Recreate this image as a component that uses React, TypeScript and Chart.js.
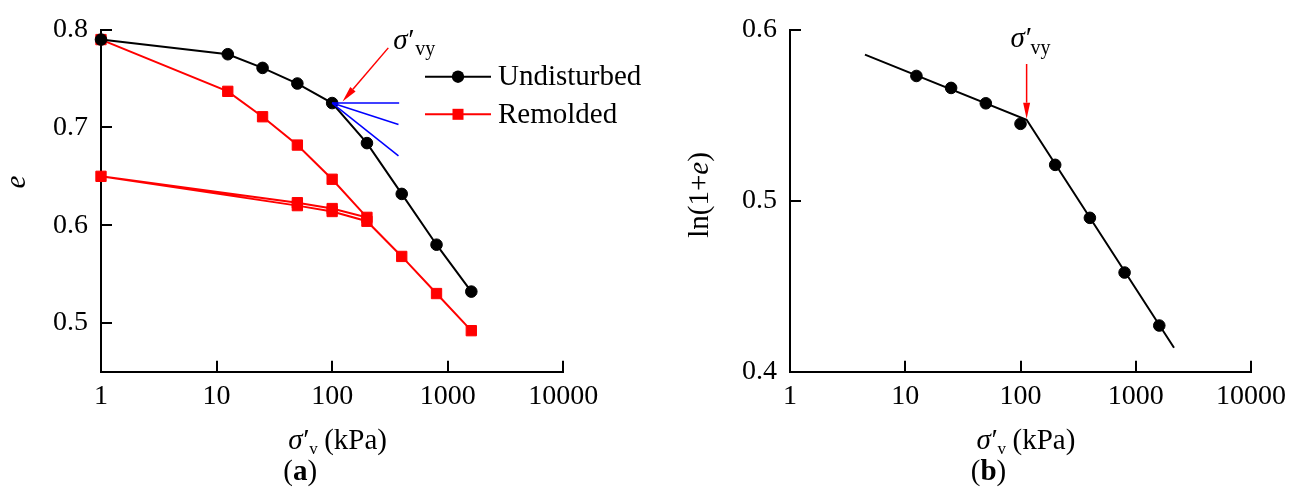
import { useEffect, useRef } from "react";
import { Chart, registerables } from "chart.js";

Chart.register(...registerables);

const SERIF = '"Liberation Serif", "Times New Roman", serif';

// ---- shared axis ticks ----
const xTicks = [1, 10, 100, 1000, 10000];
const yTicksA = [0.5, 0.6, 0.7, 0.8];
const yTicksB = [0.4, 0.5, 0.6];

// ---- panel (a): void ratio e versus vertical effective stress ----
const stressUndisturbed = [1, 12.5, 25, 50, 100, 200, 400, 800, 1600];
const eUndisturbed = [0.79, 0.775, 0.761, 0.745, 0.725, 0.684, 0.632, 0.58, 0.532];

// loading to 200 kPa, unloading to 1 kPa, then reloading to 1600 kPa
const stressRemolded = [1, 12.5, 25, 50, 100, 200, 100, 50, 1, 50, 100, 200, 400, 800, 1600];
const eRemolded = [0.79, 0.737, 0.711, 0.682, 0.647, 0.608, 0.617, 0.623, 0.65, 0.62, 0.614, 0.604, 0.568, 0.53, 0.492];

// Casagrande construction: horizontal, tangent and bisector from the max-curvature point
const constructionStartStress = 100;
const constructionStartE = 0.725;
const constructionEndStress = [380, 375, 375];
const constructionEndE = [0.725, 0.703, 0.671];

// yield-stress arrow in (a): tail and head
const arrowAStress = [306, 123];
const arrowAE = [0.7815, 0.7266];

// ---- panel (b): ln(1+e) versus vertical effective stress ----
const stressB = [12.5, 25, 50, 100, 200, 400, 800, 1600];
const lnB = [0.573, 0.566, 0.557, 0.545, 0.521, 0.49, 0.458, 0.427];
const fitStress = [4.47, 113, 2148];
const fitLn = [0.5855, 0.5474, 0.414];

// yield-stress arrow in (b): tail and head
const arrowBStress = [113, 113];
const arrowBLn = [0.58, 0.548];

const toPoints = (xs: number[], ys: number[]) => xs.map((x, i) => ({ x, y: ys[i] }));

function drawArrow(ctx: CanvasRenderingContext2D, x1: number, y1: number, x2: number, y2: number) {
  const ang = Math.atan2(y2 - y1, x2 - x1);
  const head = 16;
  const half = 3.5;
  const bx = x2 - head * Math.cos(ang);
  const by = y2 - head * Math.sin(ang);
  ctx.save();
  ctx.strokeStyle = "#ff0000";
  ctx.fillStyle = "#ff0000";
  ctx.lineWidth = 1.5;
  ctx.beginPath();
  ctx.moveTo(x1, y1);
  ctx.lineTo(bx, by);
  ctx.stroke();
  ctx.beginPath();
  ctx.moveTo(x2, y2);
  ctx.lineTo(bx + half * Math.sin(ang), by - half * Math.cos(ang));
  ctx.lineTo(bx - half * Math.sin(ang), by + half * Math.cos(ang));
  ctx.closePath();
  ctx.fill();
  ctx.restore();
}

// σ′ with a subscript, left-aligned at x on the given baseline
function drawSigma(
  ctx: CanvasRenderingContext2D,
  x: number,
  baseline: number,
  sub: string,
  subDx: number,
  subDy: number,
  subSize = 20
) {
  ctx.textAlign = "left";
  ctx.textBaseline = "alphabetic";
  ctx.font = `italic 29px ${SERIF}`;
  ctx.fillText("σ", x, baseline);
  const w = ctx.measureText("σ").width;
  ctx.fillText("′", x + w - 1, baseline);
  ctx.font = `${subSize}px ${SERIF}`;
  ctx.fillText(sub, x + subDx, baseline + subDy);
}

function drawAxisDecor(chart: any, xTitleOffset: number, letter: string) {
  const ctx: CanvasRenderingContext2D = chart.ctx;
  const { x, y } = chart.scales;
  ctx.save();
  // inward tick marks
  ctx.strokeStyle = "#000";
  ctx.lineWidth = 2;
  for (const t of x.ticks) {
    const px = Math.round(x.getPixelForValue(t.value));
    ctx.beginPath();
    ctx.moveTo(px, x.top);
    ctx.lineTo(px, x.top - 11);
    ctx.stroke();
  }
  for (const t of y.ticks) {
    const py = Math.round(y.getPixelForValue(t.value));
    ctx.beginPath();
    ctx.moveTo(y.right, py);
    ctx.lineTo(y.right + 11, py);
    ctx.stroke();
  }
  ctx.fillStyle = "#000";
  // x-axis title
  const cx = (chart.chartArea.left + chart.chartArea.right) / 2;
  const start = cx + xTitleOffset;
  drawSigma(ctx, start, 449, "v", 21, 5, 17);
  ctx.font = `29px ${SERIF}`;
  ctx.fillText("(kPa)", start + 36, 449);
  // panel letter
  ctx.font = `29px ${SERIF}`;
  const wo = ctx.measureText("(").width;
  ctx.font = `bold 29px ${SERIF}`;
  const wl = ctx.measureText(letter).width;
  const lx = cx - 32 - (2 * wo + wl) / 2;
  ctx.font = `29px ${SERIF}`;
  ctx.fillText("(", lx, 480);
  ctx.font = `bold 29px ${SERIF}`;
  ctx.fillText(letter, lx + wo, 480);
  ctx.font = `29px ${SERIF}`;
  ctx.fillText(")", lx + wo + wl, 480);
  ctx.restore();
}

function scalesFor(yMin: number, yMax: number, yTicks: number[], yWidth: number) {
  return {
    x: {
      type: "logarithmic",
      min: 1,
      max: 10000,
      afterBuildTicks: (s: any) => {
        s.ticks = xTicks.map((v) => ({ value: v }));
      },
      afterFit: (s: any) => {
        s.height = 488 - 371.7;
      },
      grid: { display: false, drawTicks: false },
      border: { display: true, color: "#000", width: 2 },
      ticks: {
        color: "#000",
        font: { family: SERIF, size: 28 },
        padding: 8,
        autoSkip: false,
        maxRotation: 0,
        callback: (v: any) => String(v),
      },
    },
    y: {
      type: "linear",
      min: yMin,
      max: yMax,
      afterBuildTicks: (s: any) => {
        s.ticks = yTicks.map((v) => ({ value: v }));
      },
      afterFit: (s: any) => {
        s.width = yWidth;
      },
      grid: { display: false, drawTicks: false },
      border: { display: true, color: "#000", width: 2 },
      ticks: {
        color: "#000",
        font: { family: SERIF, size: 28 },
        padding: 13,
        callback: (v: any) => Number(v).toFixed(1),
      },
    },
  };
}

function buildA(): any {
  const blue = constructionEndStress.map((sx, i) => ({
    label: "construction",
    data: [
      { x: constructionStartStress, y: constructionStartE },
      { x: sx, y: constructionEndE[i] },
    ],
    borderColor: "#0000ff",
    borderWidth: 1.5,
    pointRadius: 0,
    clip: false,
    order: 0,
  }));
  return {
    type: "line",
    data: {
      datasets: [
        {
          label: "Undisturbed",
          data: toPoints(stressUndisturbed, eUndisturbed),
          borderColor: "#000",
          backgroundColor: "#000",
          borderWidth: 2,
          pointStyle: "circle",
          pointRadius: 5.8,
          pointBorderWidth: 1,
          clip: false,
          order: 1,
        },
        {
          label: "Remolded",
          data: toPoints(stressRemolded, eRemolded),
          borderColor: "#ff0000",
          backgroundColor: "#ff0000",
          borderWidth: 2,
          pointStyle: "rect",
          pointRadius: 7.3,
          pointBorderWidth: 1,
          clip: false,
          order: 2,
        },
        ...blue,
      ],
    },
    options: {
      responsive: false,
      animation: false,
      events: [],
      layout: { padding: { left: 0, top: 25.7, right: 649 - 563.3, bottom: 0 } },
      plugins: { legend: { display: false }, tooltip: { enabled: false } },
      scales: scalesFor(0.45, 0.8, yTicksA, 101),
    },
    plugins: [
      {
        id: "decorA",
        afterDraw(chart: any) {
          const ctx: CanvasRenderingContext2D = chart.ctx;
          const { x, y } = chart.scales;
          drawAxisDecor(chart, -44, "a");
          // arrow and label at the yield stress
          const tx = x.getPixelForValue(arrowAStress[0]);
          const ty = y.getPixelForValue(arrowAE[0]);
          drawArrow(ctx, tx, ty, x.getPixelForValue(arrowAStress[1]), y.getPixelForValue(arrowAE[1]));
          ctx.save();
          ctx.fillStyle = "#000";
          drawSigma(ctx, tx + 5, ty + 1, "vy", 22, 6);
          // y-axis title
          ctx.translate(17, 182);
          ctx.rotate(-Math.PI / 2);
          ctx.font = `italic 29px ${SERIF}`;
          ctx.textAlign = "center";
          ctx.textBaseline = "middle";
          ctx.fillText("e", 0, 0);
          ctx.restore();
          // legend
          ctx.save();
          const rows = [
            { text: "Undisturbed", color: "#000", y: 76.7, square: false },
            { text: "Remolded", color: "#ff0000", y: 114.3, square: true },
          ];
          for (const r of rows) {
            ctx.strokeStyle = r.color;
            ctx.fillStyle = r.color;
            ctx.lineWidth = 2;
            ctx.beginPath();
            ctx.moveTo(425, r.y);
            ctx.lineTo(491, r.y);
            ctx.stroke();
            if (r.square) {
              ctx.fillRect(458 - 5.5, r.y - 5.5, 11, 11);
            } else {
              ctx.beginPath();
              ctx.arc(458, r.y, 6.2, 0, Math.PI * 2);
              ctx.fill();
            }
            ctx.fillStyle = "#000";
            ctx.font = `29px ${SERIF}`;
            ctx.textAlign = "left";
            ctx.textBaseline = "middle";
            ctx.fillText(r.text, 498, r.y + 1);
          }
          ctx.restore();
        },
      },
    ],
  };
}

function buildB(): any {
  return {
    type: "line",
    data: {
      datasets: [
        {
          label: "measured",
          data: toPoints(stressB, lnB),
          showLine: false,
          borderColor: "#000",
          backgroundColor: "#000",
          pointStyle: "circle",
          pointRadius: 5.8,
          pointBorderWidth: 1,
          clip: false,
          order: 0,
        },
        {
          label: "bilinear fit",
          data: toPoints(fitStress, fitLn),
          borderColor: "#000",
          borderWidth: 2,
          pointRadius: 0,
          clip: false,
          order: 1,
        },
      ],
    },
    options: {
      responsive: false,
      animation: false,
      events: [],
      layout: { padding: { left: 0, top: 25.7, right: 649 - 602, bottom: 0 } },
      plugins: { legend: { display: false }, tooltip: { enabled: false } },
      scales: scalesFor(0.4, 0.6, yTicksB, 141),
    },
    plugins: [
      {
        id: "decorB",
        afterDraw(chart: any) {
          const ctx: CanvasRenderingContext2D = chart.ctx;
          const { x, y } = chart.scales;
          drawAxisDecor(chart, -44, "b");
          const tx = x.getPixelForValue(arrowBStress[0]);
          const ty = y.getPixelForValue(arrowBLn[0]);
          drawArrow(ctx, tx, ty, x.getPixelForValue(arrowBStress[1]), y.getPixelForValue(arrowBLn[1]));
          ctx.save();
          ctx.fillStyle = "#000";
          drawSigma(ctx, tx - 16, ty - 17, "vy", 20, 7);
          // y-axis title ln(1+e)
          ctx.translate(51, 195);
          ctx.rotate(-Math.PI / 2);
          ctx.textBaseline = "middle";
          ctx.textAlign = "left";
          const parts = [
            { t: "ln(1+", f: `29px ${SERIF}` },
            { t: "e", f: `italic 29px ${SERIF}` },
            { t: ")", f: `29px ${SERIF}` },
          ];
          let total = 0;
          for (const p of parts) {
            ctx.font = p.f;
            total += ctx.measureText(p.t).width;
          }
          let px = -total / 2;
          for (const p of parts) {
            ctx.font = p.f;
            ctx.fillText(p.t, px, 0);
            px += ctx.measureText(p.t).width;
          }
          ctx.restore();
        },
      },
    ],
  };
}

function Panel({ left, build }: { left: number; build: () => any }) {
  const ref = useRef<HTMLCanvasElement>(null);
  useEffect(() => {
    const chart = new Chart(ref.current as HTMLCanvasElement, build());
    return () => chart.destroy();
  }, [build]);
  return (
    <canvas
      ref={ref}
      width={649}
      height={488}
      style={{ position: "absolute", left, top: 0, width: 649, height: 488, display: "block" }}
    />
  );
}

export default function App() {
  return (
    <div style={{ position: "absolute", left: 0, top: 0, width: 1298, height: 488, background: "#fff", overflow: "hidden" }}>
      <Panel left={0} build={buildA} />
      <Panel left={649} build={buildB} />
    </div>
  );
}
